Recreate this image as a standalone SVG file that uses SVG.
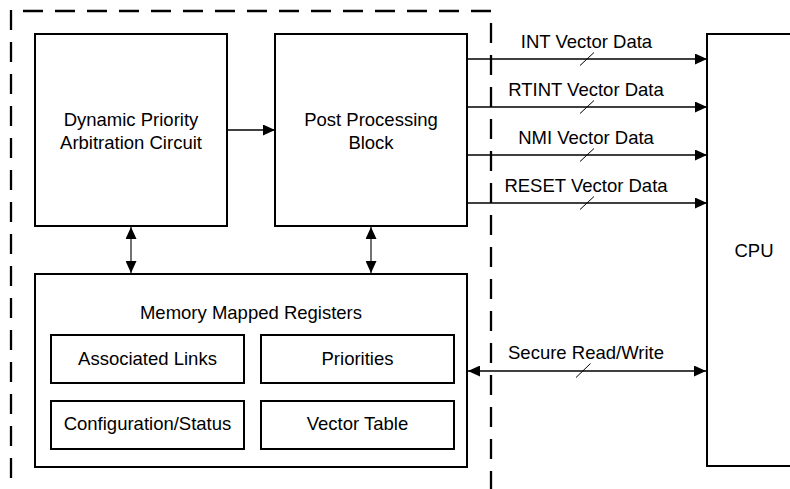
<svg xmlns="http://www.w3.org/2000/svg" width="790" height="489" viewBox="0 0 790 489">
<style>
.box{fill:#fff;stroke:#000;stroke-width:2}
.t{font-family:"Liberation Sans",Arial,sans-serif;font-size:18.5px;fill:#000;text-anchor:middle}
.dash{fill:none;stroke:#000;stroke-width:2.3;stroke-dasharray:20 12}
.sig{fill:none;stroke:#000;stroke-width:1.3}
.bi{fill:none;stroke:#444;stroke-width:1.5}
.sl{fill:none;stroke:#000;stroke-width:1}
</style>
<defs>
<marker id="ah" viewBox="0 0 12 11" refX="12" refY="5.5" markerWidth="12" markerHeight="11" markerUnits="userSpaceOnUse" orient="auto-start-reverse">
<path d="M0,0 L12,5.5 L0,11 Z" fill="#000"/>
</marker>
</defs>
<rect width="790" height="489" fill="#fff"/>
<g id="boundary">
<line class="dash" x1="11" y1="10" x2="11" y2="478"/>
<line class="dash" x1="23" y1="11" x2="491" y2="11"/>
<line class="dash" x1="491" y1="23" x2="491" y2="495"/>
</g>
<g id="dpac">
<rect class="box" x="35" y="34" width="192" height="192"/>
<text class="t" x="131" y="126">Dynamic Priority</text>
<text class="t" x="131" y="149">Arbitration Circuit</text>
</g>
<g id="ppb">
<rect class="box" x="275" y="34" width="192" height="192"/>
<text class="t" x="371" y="126">Post Processing</text>
<text class="t" x="371" y="149">Block</text>
</g>
<g id="mmr">
<rect class="box" x="35" y="274" width="432" height="193"/>
<text class="t" x="251" y="319">Memory Mapped Registers</text>
</g>
<g id="links">
<rect class="box" x="51" y="335" width="193" height="48"/>
<text class="t" x="147.5" y="364.5">Associated Links</text>
</g>
<g id="priorities">
<rect class="box" x="261" y="335" width="193" height="48"/>
<text class="t" x="357.5" y="364.5">Priorities</text>
</g>
<g id="config">
<rect class="box" x="51" y="401" width="193" height="48"/>
<text class="t" x="147.5" y="430">Configuration/Status</text>
</g>
<g id="vectable">
<rect class="box" x="261" y="401" width="193" height="48"/>
<text class="t" x="357.5" y="430">Vector Table</text>
</g>
<g id="cpu">
<path class="box" d="M800,34 H707 V466 H800"/>
<text class="t" x="754" y="257">CPU</text>
</g>
<g id="connectors">
<line class="sig" x1="227" y1="130" x2="275" y2="130" marker-end="url(#ah)"/>
<line class="bi" x1="131" y1="227" x2="131" y2="273" marker-start="url(#ah)" marker-end="url(#ah)"/>
<line class="bi" x1="371" y1="227" x2="371" y2="273" marker-start="url(#ah)" marker-end="url(#ah)"/>
<line class="sig" x1="468" y1="59" x2="707" y2="59" marker-end="url(#ah)"/>
<line class="sl" x1="580" y1="65.5" x2="594" y2="52.5"/>
<text class="t" x="586.5" y="48">INT Vector Data</text>
<line class="sig" x1="468" y1="107" x2="707" y2="107" marker-end="url(#ah)"/>
<line class="sl" x1="580" y1="113.5" x2="594" y2="100.5"/>
<text class="t" x="586" y="96">RTINT Vector Data</text>
<line class="sig" x1="468" y1="155" x2="707" y2="155" marker-end="url(#ah)"/>
<line class="sl" x1="580" y1="161.5" x2="594" y2="148.5"/>
<text class="t" x="586" y="144">NMI Vector Data</text>
<line class="sig" x1="468" y1="203" x2="707" y2="203" marker-end="url(#ah)"/>
<line class="sl" x1="580" y1="209.5" x2="594" y2="196.5"/>
<text class="t" x="586" y="192">RESET Vector Data</text>
<line class="sig" x1="468" y1="371" x2="706" y2="371" marker-start="url(#ah)" marker-end="url(#ah)"/>
<line class="sl" x1="576" y1="377.5" x2="590.5" y2="363.5"/>
<text class="t" x="586" y="359">Secure Read/Write</text>
</g>
</svg>
